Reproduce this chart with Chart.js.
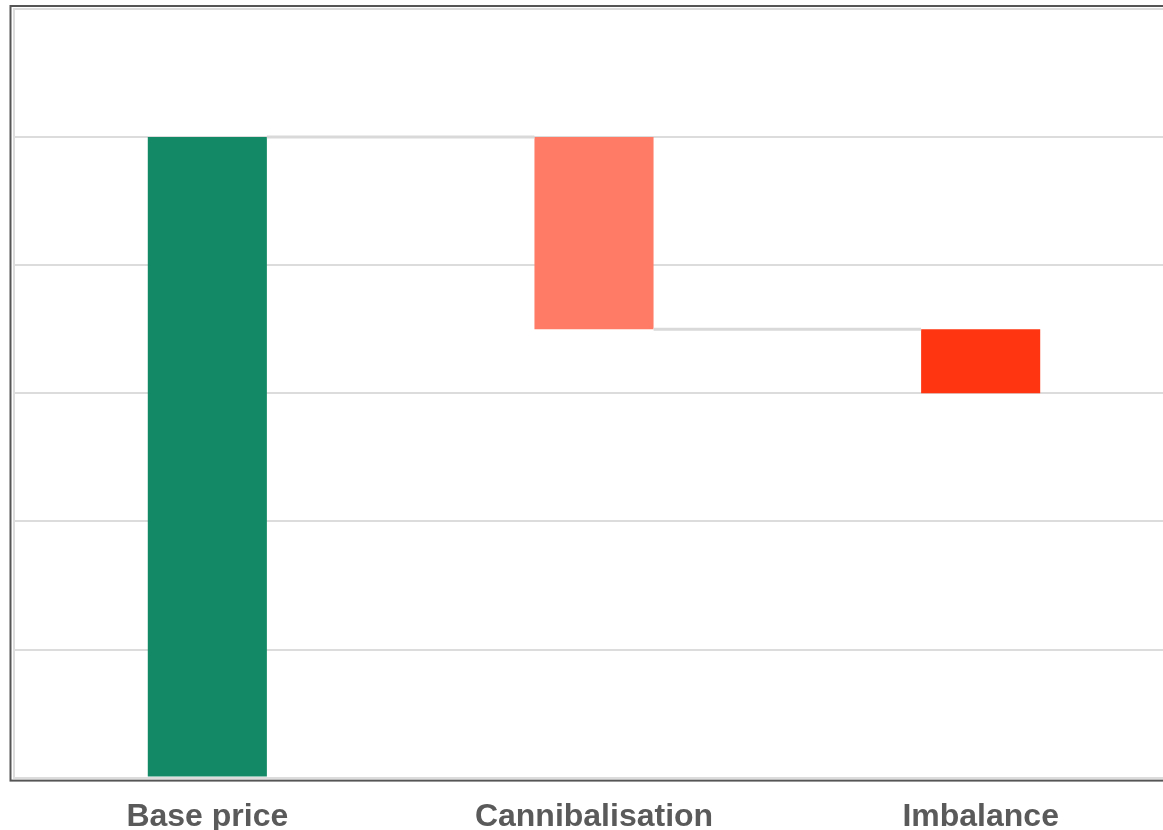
<!DOCTYPE html>
<html>
<head>
<meta charset="utf-8">
<script src="https://cdn.jsdelivr.net/npm/chart.js@4"></script>
<style>
  html, body { margin: 0; padding: 0; background: #fff; overflow: hidden; }
  #wrap { position: absolute; left: 0; top: 0; width: 1174px; height: 848px; }
</style>
</head>
<body>
<div id="wrap"><canvas id="waterfall"></canvas></div>
<script>
  // waterfall steps: [from, to]
  const categories = ['Base price', 'Cannibalisation', 'Imbalance'];
  const starts = [0, 3.5, 3];
  const ends = [5, 5, 3.5];
  const levels = [5, 3.5];   // running total after each step (connector heights)
  const barColors = ['#138a65', '#ff7b65', '#ff3512'];

  const connectors = {
    id: 'connectors',
    afterDatasetsDraw(chart) {
      const { ctx, scales: { y } } = chart;
      const bars = chart.getDatasetMeta(0).data;
      ctx.save();
      ctx.strokeStyle = '#d9d9d9';
      ctx.lineWidth = 3;
      levels.forEach((v, i) => {
        const a = bars[i], b = bars[i + 1];
        const py = y.getPixelForValue(v);
        ctx.beginPath();
        ctx.moveTo(a.x + a.width / 2, py);
        ctx.lineTo(b.x - b.width / 2, py);
        ctx.stroke();
      });
      ctx.restore();
    },
    afterDraw(chart) {
      const { ctx, chartArea: a } = chart;
      ctx.save();
      ctx.strokeStyle = '#555';
      ctx.lineWidth = 2;
      ctx.strokeRect(a.left - 3.5, a.top - 3, a.right - a.left + 10, a.bottom - a.top + 6);
      ctx.restore();
    }
  };

  new Chart(document.getElementById('waterfall'), {
    type: 'bar',
    data: {
      labels: categories,
      datasets: [{
        data: starts.map((s, i) => [s, ends[i]]),
        backgroundColor: barColors,
        barPercentage: 0.308,
        categoryPercentage: 1
      }]
    },
    options: {
      responsive: true,
      maintainAspectRatio: false,
      animation: false,
      layout: { padding: { left: 14, top: 9, right: 0, bottom: 0 } },
      plugins: { legend: { display: false }, tooltip: { enabled: false } },
      scales: {
        x: {
          grid: { display: false },
          border: { display: true, color: '#dcdcdc', width: 2 },
          ticks: {
            padding: 12,
            color: '#5a5a5a',
            font: { family: 'Liberation Sans, Arial, sans-serif', size: 32, weight: 'bold' }
          }
        },
        y: {
          min: 0,
          max: 6,
          ticks: { display: false, stepSize: 1 },
          grid: { color: '#dcdcdc', lineWidth: 2, drawTicks: false },
          border: { display: true, color: '#dcdcdc', width: 2 }
        }
      }
    },
    plugins: [connectors]
  });
</script>
</body>
</html>
